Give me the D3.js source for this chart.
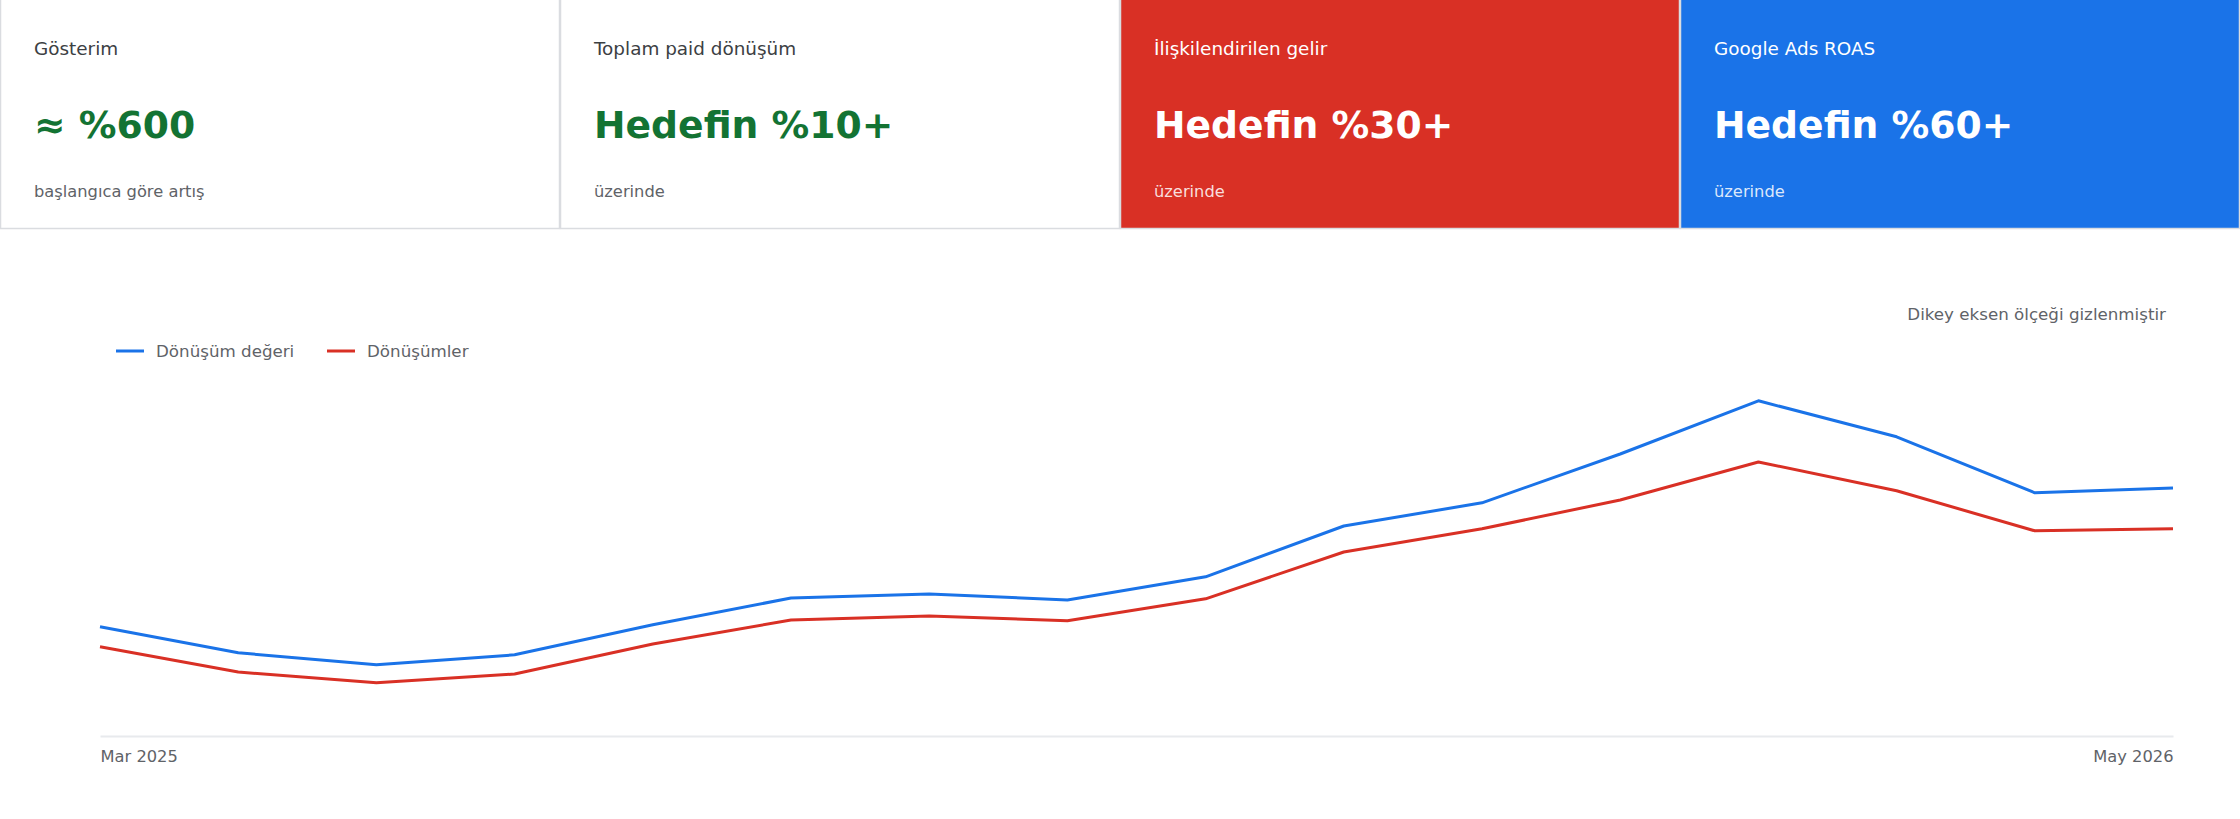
<!DOCTYPE html>
<html>
<head>
<meta charset="utf-8">
<script src="https://cdn.jsdelivr.net/npm/d3@7"></script>
<style>
  body { margin: 0; background: #fff; }
  svg { display: block; font-family: "DejaVu Sans", sans-serif; }
</style>
</head>
<body>
<div id="chart"></div>
<script>
// card texts
const cardTitles = ["Gösterim", "Toplam paid dönüşüm", "İlişkilendirilen gelir", "Google Ads ROAS"];
const cardValues = ["≈ %600", "Hedefin %10+", "Hedefin %30+", "Hedefin %60+"];
const cardNotes = ["başlangıca göre artış", "üzerinde", "üzerinde", "üzerinde"];

// line series (vertical scale is hidden, values are relative)
const periods = d3.range(16);
const tickLabels = ["Mar 2025", "May 2026"];
const seriesNames = ["Dönüşüm değeri", "Dönüşümler"];
const conversionValue = [27.3, 20.8, 17.8, 20.3, 27.8, 34.5, 35.5, 34, 39.8, 52.5, 58.3, 70.5, 83.8, 74.8, 60.8, 62];
const conversions = [22.3, 16, 13.3, 15.5, 23, 29, 30, 28.8, 34.3, 46, 51.8, 59, 68.5, 61.3, 51.3, 51.8];

const WIDTH = 2240;
const HEIGHT = 819;
const CARD_W = WIDTH / 4;
const CARD_H = 229;
const CARD_PAD = 34;

const cardStyles = [
  { bg: "#ffffff", title: "#3c4043", value: "#137333", note: "#5f6368" },
  { bg: "#ffffff", title: "#3c4043", value: "#137333", note: "#5f6368" },
  { bg: "#d93025", title: "#ffffff", value: "#ffffff", note: "rgba(255,255,255,0.85)" },
  { bg: "#1a73e8", title: "#ffffff", value: "#ffffff", note: "rgba(255,255,255,0.85)" }
];
const lineColors = ["#1a73e8", "#d93025"];

const MARGINS = { left: 100, right: 67, top: 336, bottom: 83 };

const svg = d3.select("#chart")
  .append("svg")
  .attr("width", WIDTH)
  .attr("height", HEIGHT);

// KPI cards
const cards = svg.selectAll(".card")
  .data(cardTitles)
  .enter()
  .append("g")
  .attr("class", "card")
  .attr("transform", (d, i) => "translate(" + i * CARD_W + ",0)");

cards.append("rect")
  .attr("x", 0.5)
  .attr("y", -1)
  .attr("width", CARD_W - 1)
  .attr("height", CARD_H + 0.5)
  .attr("fill", (d, i) => cardStyles[i].bg)
  .attr("stroke", "#dadce0")
  .attr("stroke-width", 1.5);

cards.append("text")
  .attr("x", CARD_PAD)
  .attr("y", 55)
  .attr("font-size", "18.4px")
  .attr("fill", (d, i) => cardStyles[i].title)
  .text((d) => d);

cards.append("text")
  .attr("x", CARD_PAD)
  .attr("y", 138)
  .attr("font-size", "37.7px")
  .attr("font-weight", "bold")
  .attr("fill", (d, i) => cardStyles[i].value)
  .text((d, i) => cardValues[i]);

cards.append("text")
  .attr("x", CARD_PAD)
  .attr("y", 197)
  .attr("font-size", "16.3px")
  .attr("fill", (d, i) => cardStyles[i].note)
  .text((d, i) => cardNotes[i]);

// scales
const X_SCALE = d3.scalePoint()
  .domain(periods)
  .range([MARGINS.left, WIDTH - MARGINS.right]);

const Y_SCALE = d3.scaleLinear()
  .domain([0, 100])
  .range([HEIGHT - MARGINS.bottom, MARGINS.top]);

// x axis, only first and last label
const xAxis = svg.append("g")
  .attr("transform", "translate(0," + (HEIGHT - MARGINS.bottom) + ")")
  .call(d3.axisBottom(X_SCALE)
    .tickValues([periods[0], periods[periods.length - 1]])
    .tickFormat((d, i) => tickLabels[i])
    .tickSize(0)
    .tickPadding(14));

xAxis.select(".domain").attr("stroke", "#e8eaed").attr("stroke-width", 2);
xAxis.selectAll("text")
  .attr("font-size", "16.3px")
  .attr("font-family", "DejaVu Sans, sans-serif")
  .attr("fill", "#5f6368")
  .attr("text-anchor", (d, i) => (i === 0 ? "start" : "end"));

// lines
const line = d3.line()
  .x((d, i) => X_SCALE(periods[i]))
  .y((d) => Y_SCALE(d));

svg.selectAll(".series")
  .data([conversionValue, conversions])
  .enter()
  .append("path")
  .attr("class", "series")
  .attr("d", (d) => line(d))
  .attr("fill", "none")
  .attr("stroke", (d, i) => lineColors[i])
  .attr("stroke-width", 3)
  .attr("stroke-linejoin", "round");

// legend
const legendX = [116, 327];
const legend = svg.selectAll(".legend")
  .data(seriesNames)
  .enter()
  .append("g")
  .attr("class", "legend")
  .attr("transform", (d, i) => "translate(" + legendX[i] + ",351)");

legend.append("line")
  .attr("x1", 0)
  .attr("x2", 28)
  .attr("stroke", (d, i) => lineColors[i])
  .attr("stroke-width", 3);

legend.append("text")
  .attr("x", 40)
  .attr("y", 6)
  .attr("font-size", "16.7px")
  .attr("fill", "#5f6368")
  .text((d) => d);

// note about hidden scale
svg.append("text")
  .attr("x", 2166)
  .attr("y", 320)
  .attr("text-anchor", "end")
  .attr("font-size", "16.7px")
  .attr("fill", "#5f6368")
  .text("Dikey eksen ölçeği gizlenmiştir");
</script>
</body>
</html>
